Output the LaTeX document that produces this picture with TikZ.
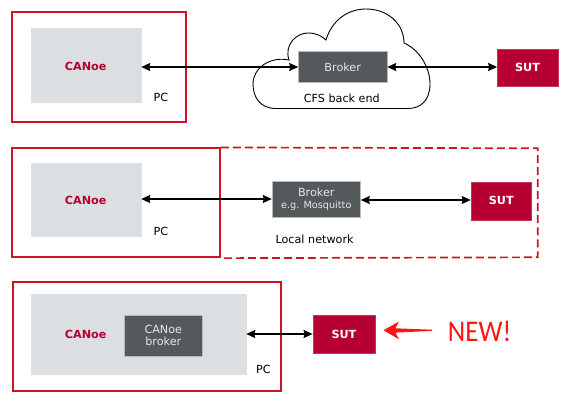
\documentclass[tikz,border=0pt]{standalone}
\usepackage{fontspec}
\setmainfont{DejaVu Sans}
\newfontfamily\newlabelfont{Carlito}
\usetikzlibrary{arrows.meta}
\definecolor{vred}{RGB}{183,0,50}
\definecolor{framered}{RGB}{204,20,36}
\definecolor{canoegray}{RGB}{220,223,226}
\definecolor{brokergray}{RGB}{84,90,92}
\definecolor{brokertext}{RGB}{230,230,230}
\definecolor{newred}{RGB}{255,20,20}
\tikzset{
  pcframe/.style={draw=framered, line width=1.7pt, inner sep=0pt},
  canoebox/.style={fill=canoegray, draw=canoegray!90!white, line width=0.4pt, inner sep=0pt},
  canoetext/.style={text=vred, font=\fontsize{11.2}{13}\selectfont\bfseries},
  brokerbox/.style={fill=brokergray, draw=gray!55, line width=0.4pt, text=brokertext, font=\fontsize{11.2}{13}\selectfont, align=center, inner sep=0pt},
  sutbox/.style={fill=vred, draw=vred!80!white, line width=0.4pt, text=white, font=\fontsize{11.2}{13}\selectfont\bfseries, inner sep=0pt},
  lbl/.style={font=\fontsize{11.2}{13}\selectfont, inner sep=0pt},
  link/.style={line width=1.5pt, {Stealth[length=9pt,width=8pt,inset=1pt]}-{Stealth[length=9pt,width=8pt,inset=1pt]}},
  cloudline/.style={draw=black, line width=0.9pt, fill=white},
}
\begin{document}
\begin{tikzpicture}[x=1pt,y=-1pt]
\useasboundingbox (0,0) rectangle (567,401);

% ---------- Row 1 ----------
\path[cloudline] (276,108.5) .. controls (260,108.5) and (253,97) .. (253,84)
  .. controls (253,68) and (270,56) .. (289,60)
  .. controls (284,45) and (296,33) .. (308,33)
  .. controls (316,33) and (322,36) .. (326,40)
  .. controls (332,20) and (348,9) .. (366,9)
  .. controls (388,9) and (404,24) .. (404,43)
  .. controls (420,50) and (430,68) .. (430,84)
  .. controls (430,100) and (421,108.5) .. (408,108.5)
  -- cycle;
\node[pcframe, minimum width=174.4pt, minimum height=109.4pt] (pc1) at (99.1,67) {};
\node[canoebox, minimum width=109.5pt, minimum height=73.7pt] (canoe1) at (86.25,65.15) {};
\node[canoetext] (canoe1t) at (85.7,66) {CANoe};
\node[lbl] (pc1l) at (161,97.5) {PC};
\node[brokerbox, minimum width=88.6pt, minimum height=30.6pt] (broker1) at (342.7,67) {Broker};
\node[sutbox, minimum width=60.4pt, minimum height=37.7pt] (sut1) at (527.5,67.85) {SUT};
\node[lbl] (cfs) at (341.8,98.5) {CFS back end};
\draw[link] (canoe1.east |- broker1.west) -- (broker1.west);
\draw[link] (broker1.east) -- (sut1.west |- broker1.east);

% ---------- Row 2 ----------
\node[pcframe, minimum width=208pt, minimum height=109pt] (pc2) at (115.9,202.8) {};
\coordinate (ln2ne) at (537.8,148.3);
\coordinate (ln2se) at (537.8,257.3);
\draw[framered, line width=1.7pt, dash pattern=on 8pt off 4pt] (pc2.north east) -- (ln2ne) -- (ln2se) -- (pc2.south east);
\node[canoebox, minimum width=109.5pt, minimum height=73.3pt] (canoe2) at (86.25,199.35) {};
\node[canoetext] (canoe2t) at (85.7,200) {CANoe};
\node[lbl] (pc2l) at (161,231.5) {PC};
\node[brokerbox, minimum width=88.6pt, minimum height=36.3pt] (broker2) at (316.3,198.85)
  {Broker\\[-1pt]{\fontsize{9.7}{11}\selectfont e.g. Mosquitto}};
\node[sutbox, minimum width=60.7pt, minimum height=38.3pt] (sut2) at (501.25,200.85) {SUT};
\node[lbl] (lnet) at (314.6,239) {Local network};
\draw[link] (canoe2.east |- 0,199) -- (broker2.west |- 0,199);
\draw[link] (broker2.east |- 0,200) -- (sut2.west |- 0,200);

% ---------- Row 3 ----------
\node[pcframe, minimum width=268.3pt, minimum height=109.3pt] (pc3) at (146.85,336.35) {};
\node[canoebox, minimum width=214.5pt, minimum height=80pt] (canoe3) at (138.75,334.3) {};
\node[canoetext] (canoe3t) at (85.7,334.5) {CANoe};
\node[brokerbox, minimum width=77.8pt, minimum height=41.3pt] (cbroker) at (163.3,335.65) {CANoe\\[-1pt]broker};
\node[lbl] (pc3l) at (263.3,369.5) {PC};
\node[sutbox, minimum width=62.2pt, minimum height=38.3pt] (sut3) at (343.9,334.15) {SUT};
\draw[link] (canoe3.east |- 0,334) -- (sut3.west |- 0,334);

% red NEW pointer
\coordinate (tip) at (383.5,330.3);
\coordinate (tailend) at (432,330.3);
\fill[newred] (tip) -- (399,321.5) -- (395.5,328.3) -- (tailend |- 0,329.7) -- (tailend |- 0,330.9) -- (395.5,332.6) -- (399,339.3) -- cycle;
\node[text=newred, font=\newlabelfont\fontsize{30}{32}\selectfont, anchor=base, xscale=0.9, inner sep=0pt] (new) at (479.6,341.7) {NEW!};
\end{tikzpicture}
\end{document}
